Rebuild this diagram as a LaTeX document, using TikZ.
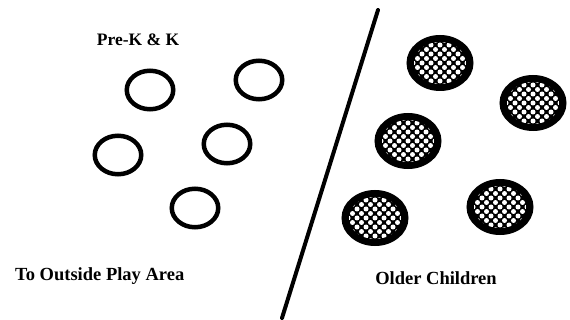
\documentclass[tikz,border=0pt]{standalone}
\usepackage{fontspec}
\setmainfont{Liberation Serif}
\usetikzlibrary{shapes.geometric}
\tikzset{
  openseat/.style={ellipse, draw=black, line width=4.5pt, minimum width=46.5pt, minimum height=38.5pt, inner sep=0pt},
  hatchseat/.style={ellipse, draw=black, fill=black, line width=5.5pt, minimum width=61.5pt, minimum height=50.5pt, inner sep=0pt,
    path picture={
      \clip (path picture bounding box.center) ellipse [x radius=26pt, y radius=21pt];
      \foreach \i in {-3,...,3}{
        \foreach \j in {-3,...,3}{
          \fill[white] ([shift={(\i*9pt,\j*9pt)}]path picture bounding box.center) circle (2.5pt);
          \fill[white] ([shift={(\i*9pt+4.5pt,\j*9pt+4.5pt)}]path picture bounding box.center) circle (2.5pt);
        }
      }
    }},
  lbl/.style={font=\fontsize{18.5}{22}\selectfont\bfseries, inner sep=0pt},
  divider/.style={line width=4pt, line cap=round}
}
\begin{document}
\begin{tikzpicture}[x=1pt,y=-1pt]
\useasboundingbox (0,0) rectangle (570,320);
\node[openseat] (o1) at (150,90) {};
\node[openseat] (o2) at (259,80) {};
\node[openseat] (o3) at (118,155) {};
\node[openseat] (o4) at (227,144) {};
\node[openseat] (o5) at (195,208) {};
\node[hatchseat] (h1) at (440,63) {};
\node[hatchseat] (h2) at (533,103) {};
\node[hatchseat] (h3) at (408,141) {};
\node[hatchseat] (h4) at (375,218) {};
\node[hatchseat] (h5) at (500,207) {};
\coordinate (ltop) at (378,10);
\coordinate (lbot) at (282,318);
\draw[divider] (ltop) -- (lbot);
\node[lbl, font=\fontsize{17.5}{21}\selectfont\bfseries, anchor=base] (pre) at (138,46) {Pre-K \& K};
\node[lbl, anchor=base west] (out) at (15,280) {To Outside Play Area};
\node[lbl, anchor=base] (old) at (436,284) {Older Children};
\end{tikzpicture}
\end{document}
